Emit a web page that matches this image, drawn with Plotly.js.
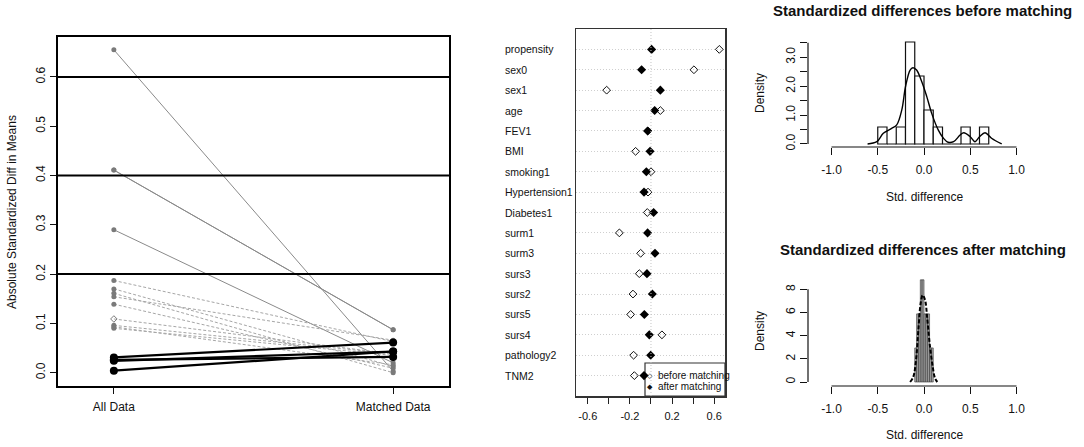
<!DOCTYPE html>
<html><head><meta charset="utf-8">
<script src="https://cdn.plot.ly/plotly-3.0.1.min.js"></script>
<style>html,body{margin:0;padding:0;background:#fff}#chart{width:1084px;height:447px}</style>
</head><body><div id="chart"></div>
<script>
// ---------- Left panel: absolute standardized differences ----------
const leftVars = ['propensity','sex0','sex1','surm1','surs5','surs2','pathology2','TNM2','BMI','surs3','surm3','surs4','age','Hypertension1','FEV1','Diabetes1','smoking1'];
const allDataAbs     = [0.655,0.411,0.411,0.290,0.187,0.170,0.161,0.154,0.139,0.109,0.096,0.093,0.090,0.031,0.026,0.024,0.004];
const matchedDataAbs = [0.003,0.087,0.087,0.020,0.063,0.013,0.000,0.066,0.009,0.038,0.038,0.016,0.035,0.061,0.032,0.043,0.043];
const leftCats = ['All Data','Matched Data'];
const leftYTicks = [0,0.1,0.2,0.3,0.4,0.5,0.6];
const refLines = [0.2,0.4,0.6];
const openMarkerVars = ['surs3'];

// ---------- Middle panel: dot chart ----------
const dotVars = ['propensity','sex0','sex1','age','FEV1','BMI','smoking1','Hypertension1','Diabetes1','surm1','surm3','surs3','surs2','surs5','surs4','pathology2','TNM2'];
const beforeMatch = [0.649,0.408,-0.421,0.089,-0.030,-0.146,0.000,-0.028,-0.035,-0.300,-0.098,-0.111,-0.171,-0.193,0.104,-0.165,-0.158];
const afterMatch  = [0.006,-0.089,0.089,0.035,-0.032,-0.009,-0.044,-0.066,0.025,-0.032,0.038,-0.038,0.013,-0.063,-0.016,-0.003,-0.066];
const dotTicks = [-0.6,-0.4,-0.2,0,0.2,0.4,0.6];
const dotTickText = ['-0.6','','-0.2','','0.2','','0.6'];

// ---------- Right top: histogram before matching ----------
const beforeBinStart = [-0.5,-0.4,-0.3,-0.2,-0.1,0.0,0.1,0.2,0.3,0.4,0.5,0.6];
const beforeDensity  = [0.588,0,0.588,3.529,2.353,1.176,0.588,0,0,0.588,0,0.588];
const beforeBinWidth = 0.1;
const beforeKdeX = [-0.61,-0.51,-0.44,-0.35,-0.295,-0.24,-0.2,-0.15,-0.12,-0.08,-0.025,0.03,0.083,0.155,0.21,0.26,0.32,0.39,0.43,0.5,0.55,0.6,0.66,0.73,0.84];
const beforeKdeY = [0.0,0.08,0.37,0.54,0.66,1.18,1.98,2.56,2.64,2.56,2.16,1.64,1.06,0.48,0.2,0.06,0.08,0.31,0.39,0.25,0.08,0.25,0.39,0.2,0.0];
const beforeYTicks = [0,0.5,1,1.5,2,2.5,3,3.5];
const beforeYText = ['0.0','','1.0','','2.0','','3.0',''];

// ---------- Right bottom: histogram after matching ----------
const afterBinStart = [-0.10,-0.08,-0.06,-0.04,-0.02,0.00,0.02,0.04,0.06,0.08];
const afterDensity  = [2.94,5.88,5.88,8.82,8.82,5.88,5.88,5.88,2.94,2.94];
const afterBinWidth = 0.02;
const afterKdeX = [-0.15,-0.115,-0.086,-0.061,-0.036,-0.014,0.011,0.036,0.065,0.094,0.119,0.144];
const afterKdeY = [0,0.46,1.9,4.5,6.8,7.5,7.1,5.4,3.05,1.33,0.32,0];
const afterYTicks = [0,2,4,6,8];

const histXTicks = [-1,-0.5,0,0.5,1];
const histXText = ['-1.0','-0.5','0.0','0.5','1.0'];

const W = 1084, H = 447;
const px = v => v / W;
const py = v => (H - v) / H;
const FONT = 'Liberation Sans, Arial, sans-serif';
const INK = '#111';

const traces = [];
// left panel lines: decreased first (gray), increased last (black)
const order = leftVars.map((v,i)=>i).sort((a,b)=>{
  const ia = matchedDataAbs[a] > allDataAbs[a] ? 1 : 0;
  const ib = matchedDataAbs[b] > allDataAbs[b] ? 1 : 0;
  return ia - ib;
});
order.forEach(i => {
  const inc = matchedDataAbs[i] > allDataAbs[i];
  const big = allDataAbs[i] > 0.2;
  const open = openMarkerVars.includes(leftVars[i]);
  traces.push({
    type:'scatter', mode:'lines+markers', xaxis:'x', yaxis:'y',
    x:[1,2], y:[allDataAbs[i], matchedDataAbs[i]], name:leftVars[i], showlegend:false,
    line:{color: inc ? '#000' : (big ? '#8a8a8a' : '#a6a6a6'), width: inc ? 2.2 : 1, dash: (inc||big) ? 'solid' : '3px,2px'},
    marker:{color: inc ? '#000' : '#7a7a7a', size: inc ? 8 : 5,
      symbol: open ? ['diamond-open','circle'] : 'circle', line:{width: open?1:0, color:'#7a7a7a'}},
    hoverinfo:'skip'
  });
});

// middle dot chart
const rows = dotVars.map((v,i)=> dotVars.length - i);
traces.push({type:'scatter', mode:'markers', xaxis:'x2', yaxis:'y2', x:beforeMatch, y:rows, showlegend:false,
  marker:{symbol:'diamond-open', size:6, color:'#111', line:{width:1, color:'#111'}}, hoverinfo:'skip'});
traces.push({type:'scatter', mode:'markers', xaxis:'x2', yaxis:'y2', x:afterMatch, y:rows, showlegend:false,
  marker:{symbol:'diamond', size:7, color:'#000'}, hoverinfo:'skip'});

// top histogram
traces.push({type:'bar', xaxis:'x3', yaxis:'y3', x:beforeBinStart.map(s=>s+beforeBinWidth/2), y:beforeDensity,
  width:beforeBinWidth, marker:{color:'#fff', line:{color:'#111', width:1.2}}, showlegend:false, hoverinfo:'skip'});
traces.push({type:'scatter', mode:'lines', xaxis:'x3', yaxis:'y3', x:beforeKdeX, y:beforeKdeY,
  line:{color:'#000', width:1.4, shape:'spline', smoothing:1}, showlegend:false, hoverinfo:'skip'});

// bottom histogram
traces.push({type:'bar', xaxis:'x4', yaxis:'y4', x:afterBinStart.map(s=>s+afterBinWidth/2), y:afterDensity,
  width:afterBinWidth, marker:{color:'#a8a8a8', line:{color:'#333', width:0.6}}, showlegend:false, hoverinfo:'skip'});
traces.push({type:'scatter', mode:'lines', xaxis:'x4', yaxis:'y4', x:afterKdeX, y:afterKdeY,
  line:{color:'#000', width:2, dash:'4px,2px', shape:'spline', smoothing:1}, showlegend:false, hoverinfo:'skip'});

const baseTick = {family:FONT, size:12, color:INK};
const layout = {
  width:W, height:H, margin:{l:0,r:0,t:0,b:0}, paper_bgcolor:'#fff', plot_bgcolor:'rgba(0,0,0,0)',
  showlegend:false, bargap:0,
  xaxis:{domain:[px(58),px(449)], range:[0.8,2.2], tickvals:[1,2], ticktext:leftCats, ticks:'outside', ticklen:6, tickcolor:INK,
    ticklabelstandoff:3,
    showline:true, mirror:true, linecolor:'#000', linewidth:2, showgrid:false, zeroline:false, tickfont:baseTick, anchor:'y'},
  yaxis:{domain:[py(386),py(37)], range:[-0.027,0.681], tickvals:leftYTicks, ticktext:leftYTicks.map(v=>v.toFixed(1)),
    ticks:'outside', ticklen:6, tickcolor:INK, tickangle:-90, showline:true, mirror:true, linecolor:'#000', linewidth:2,
    showgrid:false, zeroline:false, tickfont:baseTick, anchor:'x'},
  xaxis2:{domain:[px(576),px(725)], range:[-0.712,0.703], tickvals:dotTicks, ticktext:dotTickText, ticks:'outside', ticklen:6,
    ticklabelstandoff:3,
    tickcolor:'#222', showline:true, mirror:true, linecolor:'#333', linewidth:1.5, showgrid:false, zeroline:false,
    tickfont:{family:FONT, size:11, color:INK}, anchor:'y2'},
  yaxis2:{domain:[py(396),py(29)], range:[0,18], tickvals:rows, showticklabels:false, ticks:'', showline:true, mirror:true,
    linecolor:'#333', linewidth:1.5, showgrid:true, gridcolor:'#cfcfcf', griddash:'1px,2px', gridwidth:1, zeroline:false, anchor:'x2'},
  xaxis3:{domain:[px(808),px(1040)], range:[-1.254,1.254], tickvals:histXTicks, ticktext:histXText, ticks:'outside', ticklen:7,
    ticklabelstandoff:5,
    tickcolor:INK, showline:false, showgrid:false, zeroline:false, tickfont:baseTick, anchor:'y3'},
  yaxis3:{domain:[py(147),py(39)], range:[-0.104,3.633], tickvals:beforeYTicks, ticktext:beforeYText, ticks:'outside', ticklen:7,
    tickcolor:INK, tickangle:-90, showline:false, showgrid:false, zeroline:false, tickfont:baseTick, anchor:'x3'},
  xaxis4:{domain:[px(808),px(1040)], range:[-1.254,1.254], tickvals:histXTicks, ticktext:histXText, ticks:'outside', ticklen:7,
    ticklabelstandoff:5,
    tickcolor:INK, showline:false, showgrid:false, zeroline:false, tickfont:baseTick, anchor:'y4'},
  yaxis4:{domain:[py(386),py(276)], range:[-0.345,9.15], tickvals:afterYTicks, ticktext:afterYTicks.map(String), ticks:'outside', ticklen:7,
    tickcolor:INK, tickangle:-90, showline:false, showgrid:false, zeroline:false, tickfont:baseTick, anchor:'x4'},
  shapes:[], annotations:[]
};

// reference lines in left panel
refLines.forEach(v => layout.shapes.push({type:'line', xref:'x domain', x0:0, x1:1, yref:'y', y0:v, y1:v, line:{color:'#000', width:2}}));
// zero line in dot chart
layout.shapes.push({type:'line', xref:'x2', x0:0, x1:0, yref:'y2 domain', y0:0, y1:1, line:{color:'#c4c4c4', width:1, dash:'1px,2px'}});
// R style axis lines for histograms
[['x3','y3',beforeYTicks],['x4','y4',afterYTicks]].forEach(([xa,ya,yt]) => {
  layout.shapes.push({type:'line', xref:xa, x0:histXTicks[0], x1:histXTicks[histXTicks.length-1], yref:ya+' domain', y0:0, y1:0, line:{color:INK, width:1.2}});
  layout.shapes.push({type:'line', xref:xa+' domain', x0:0, x1:0, yref:ya, y0:yt[0], y1:yt[yt.length-1], line:{color:INK, width:1.2}});
});
// legend box in dot chart
layout.shapes.push({type:'rect', xref:'paper', yref:'paper', x0:px(645), x1:px(725), y0:py(396), y1:py(363), line:{color:'#333', width:1.2}, fillcolor:'#fff', layer:'below'});

const ann = (o) => layout.annotations.push(Object.assign({showarrow:false, xanchor:'center', yanchor:'middle', font:{family:FONT, size:12, color:INK}}, o));
// dot chart row labels
dotVars.forEach((v,i) => ann({text:v, xref:'paper', x:px(503), xanchor:'left', yref:'y2', y:rows[i], font:{family:FONT, size:10.5, color:INK}}));
// legend entries
ann({text:'◇', xref:'paper', x:px(650), yref:'paper', y:py(375.5), font:{family:'DejaVu Sans', size:7, color:INK}});
ann({text:'◆', xref:'paper', x:px(650), yref:'paper', y:py(386.5), font:{family:'DejaVu Sans', size:7, color:INK}});
ann({text:'before matching', xref:'paper', x:px(656), xanchor:'left', yref:'paper', y:py(375.5), font:{family:FONT, size:10, color:INK}});
ann({text:'after matching', xref:'paper', x:px(656), xanchor:'left', yref:'paper', y:py(386.5), font:{family:FONT, size:10, color:INK}});
// axis titles
ann({text:'Absolute Standardized Diff in Means', xref:'paper', x:px(12), yref:'paper', y:py(212), textangle:-90});
ann({text:'<b>Standardized differences before matching</b>', xref:'paper', x:px(922), yref:'paper', y:py(10), font:{family:FONT, size:15, color:INK}});
ann({text:'<b>Standardized differences after matching</b>', xref:'paper', x:px(923), yref:'paper', y:py(249), font:{family:FONT, size:15, color:INK}});
ann({text:'Density', xref:'paper', x:px(760), yref:'paper', y:py(93), textangle:-90});
ann({text:'Density', xref:'paper', x:px(760), yref:'paper', y:py(331), textangle:-90});
ann({text:'Std. difference', xref:'paper', x:px(924), yref:'paper', y:py(197)});
ann({text:'Std. difference', xref:'paper', x:px(924), yref:'paper', y:py(435)});

Plotly.newPlot('chart', traces, layout, {staticPlot:true});
</script></body></html>
